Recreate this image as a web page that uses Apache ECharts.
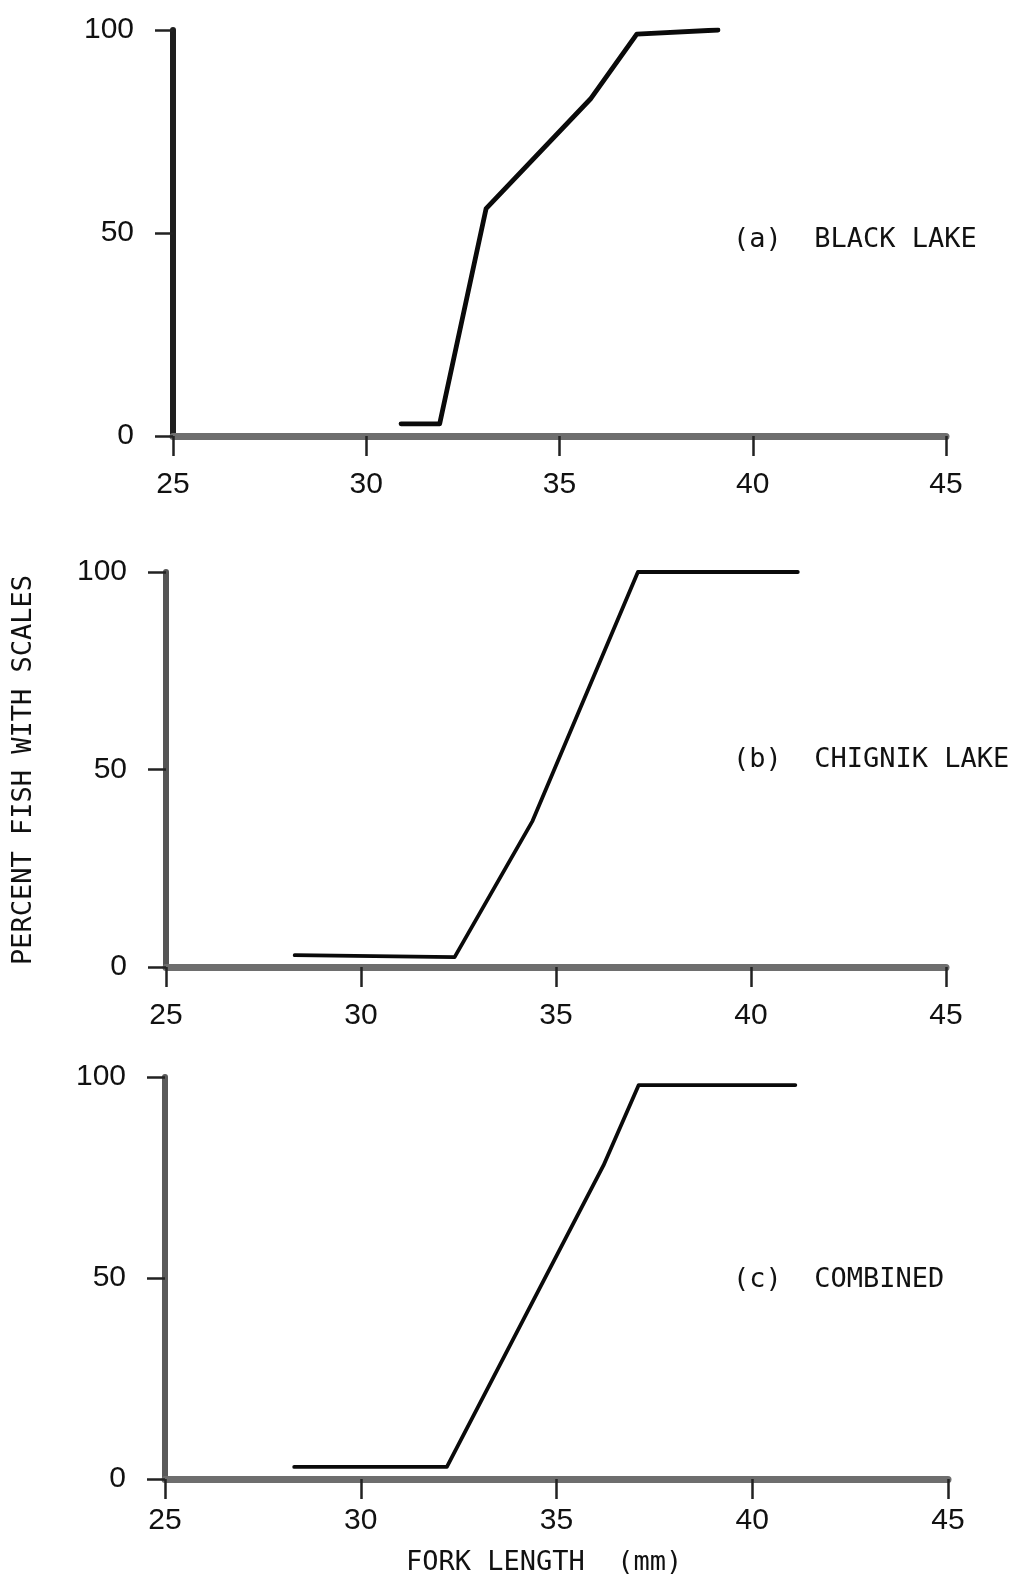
<!DOCTYPE html>
<html>
<head>
<meta charset="utf-8">
<script src="https://cdn.jsdelivr.net/npm/echarts@6/dist/echarts.min.js"></script>
<style>
  html, body { margin: 0; padding: 0; background: #fff; }
  #chart { width: 1012px; height: 1581px; }
</style>
</head>
<body>
<div id="chart"></div>
<script>
// Fork length (mm) vs percent of fish with scales, three samples
const forkTicks = [25, 30, 35, 40, 45];
const pctTicks = [0, 50, 100];

const forkBlack = [30.9, 31.9, 33.1, 35.8, 37.0, 39.1];
const pctBlack  = [3, 3, 56, 83, 99, 100];

const forkChignik = [28.3, 32.4, 34.4, 37.1, 41.2];
const pctChignik  = [3, 2.5, 37, 100, 100];

const forkCombined = [28.3, 32.2, 36.2, 37.1, 41.1];
const pctCombined  = [3, 3, 78, 98, 98];

const panelLabels = ['(a)  BLACK LAKE', '(b)  CHIGNIK LAKE', '(c)  COMBINED'];
const yTitle = 'PERCENT FISH WITH SCALES';
const xTitle = 'FORK LENGTH  (mm)';

const pair = (xs, ys) => xs.map((x, i) => [x, ys[i]]);

const monoFont = '"DejaVu Sans Mono", "Liberation Mono", monospace';
const numFont = '"Liberation Sans Narrow", "Liberation Sans", Arial, sans-serif';

// panel frames: left/right/top/height in px
const panels = [
  { left: 173, right: 66, top: 30,   height: 406, yColor: '#1e1e1e', lineW: 4.8, xLabelMargin: 34 },
  { left: 166, right: 66, top: 572,  height: 395, yColor: '#555',    lineW: 3.8, xLabelMargin: 34 },
  { left: 165, right: 64, top: 1077, height: 402, yColor: '#5a5a5a', lineW: 3.8, xLabelMargin: 27 }
];

const grids = panels.map(p => ({ left: p.left, right: p.right, top: p.top, height: p.height }));

const xAxes = panels.map((p, i) => ({
  type: 'value', gridIndex: i,
  min: forkTicks[0], max: forkTicks[forkTicks.length - 1], interval: 5,
  axisLine: { show: true, onZero: false, lineStyle: { color: '#6e6e6e', width: 7, cap: 'round' } },
  axisTick: { show: true, inside: false, length: 20, lineStyle: { color: '#222', width: 2.5 } },
  axisLabel: { show: true, margin: p.xLabelMargin, color: '#111', fontFamily: numFont, fontSize: 30 },
  splitLine: { show: false }
}));

const yAxes = panels.map((p, i) => ({
  type: 'value', gridIndex: i,
  min: pctTicks[0], max: pctTicks[pctTicks.length - 1], interval: 50,
  axisLine: { show: true, onZero: false, lineStyle: { color: p.yColor, width: 6, cap: 'round' } },
  axisTick: { show: true, inside: false, length: 18, lineStyle: { color: '#222', width: 2.5 } },
  axisLabel: { show: true, margin: 39, color: '#111', fontFamily: numFont, fontSize: 30 },
  splitLine: { show: false }
}));

const seriesData = [
  pair(forkBlack, pctBlack),
  pair(forkChignik, pctChignik),
  pair(forkCombined, pctCombined)
];

const series = seriesData.map((d, i) => ({
  type: 'line', xAxisIndex: i, yAxisIndex: i,
  data: d, symbol: 'none', silent: true,
  lineStyle: { color: '#0a0a0a', width: panels[i].lineW, cap: 'round', join: 'round' }
}));

const labelY = [243, 763, 1283];
const graphics = panelLabels.map((t, i) => ({
  type: 'text', left: 733, top: labelY[i] - 17,
  style: { text: t, font: '27px ' + monoFont, fill: '#111' }
}));
graphics.push({
  type: 'text', x: 24, y: 770, rotation: Math.PI / 2,
  style: { text: yTitle, font: '27px ' + monoFont, fill: '#111', align: 'center', verticalAlign: 'middle' }
});
graphics.push({
  type: 'text', left: 406, top: 1549,
  style: { text: xTitle, font: '27px ' + monoFont, fill: '#111' }
});

const chart = echarts.init(document.getElementById('chart'), null, { renderer: 'canvas' });
chart.setOption({
  animation: false,
  backgroundColor: '#ffffff',
  grid: grids,
  xAxis: xAxes,
  yAxis: yAxes,
  series: series,
  graphic: graphics
});
</script>
</body>
</html>
